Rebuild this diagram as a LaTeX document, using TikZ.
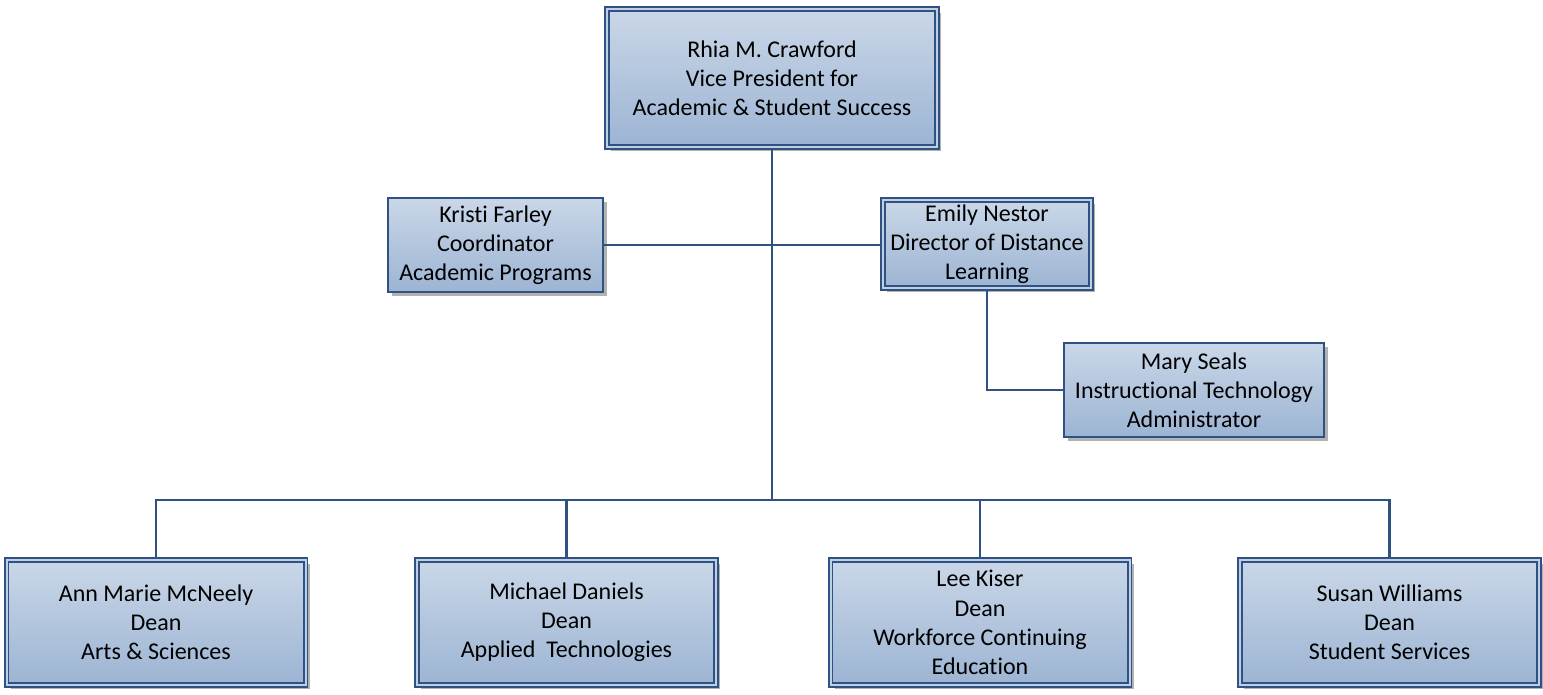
\documentclass[tikz,border=0pt]{standalone}
\usepackage{fontspec}
\setmainfont{Carlito}[Ligatures=NoCommon]
\usetikzlibrary{positioning, shadows}
\definecolor{boxline}{HTML}{2F5283}
\definecolor{boxtop}{HTML}{CAD7E8}
\definecolor{boxbottom}{HTML}{9CB4D3}
\definecolor{boxgap}{HTML}{BFCFE4}
\tikzstyle{base} = [rectangle, align=center, inner sep=0pt, top color=boxtop, bottom color=boxbottom,
 drop shadow={shadow xshift=2pt, shadow yshift=-2pt, fill=black, opacity=0.3},
 font=\fontsize{12}{14.6}\selectfont]
\tikzstyle{single_box} = [base, draw=boxline, line width=1.1pt]
\tikzstyle{double_box} = [base, draw=boxline, line width=0.95pt, double=boxgap, double distance=1pt]
\tikzstyle{dean} = [double_box, minimum width=149.5pt, minimum height=62.7pt]
\tikzstyle{link} = [draw=boxline, line width=1.4pt]

\begin{document}
\begin{tikzpicture}[x=0.5pt, y=-0.5pt]
\useasboundingbox (0,0) rectangle (1543,695);

\node (VP_CRAWFORD) [double_box, minimum width=165pt, minimum height=69pt] at (772,78)
    {Rhia M. Crawford\\Vice President for\\Academic \& Student Success};
\node (COORD_FARLEY) [single_box, minimum width=107.5pt, minimum height=47pt] at (495.5,245)
    {Kristi Farley\\Coordinator\\Academic Programs};
\node (DIR_NESTOR) [double_box, minimum width=104pt, minimum height=44pt] at (987,244)
    {Emily Nestor\\Director of Distance\\Learning};
\node (ADMIN_SEALS) [single_box, minimum width=130pt, minimum height=47pt] at (1194,390)
    {Mary Seals\\Instructional Technology\\Administrator};

\node (DEAN_MCNEELY) [dean] at (156,622.5) {Ann Marie McNeely\\Dean\\Arts \& Sciences};
\node (DEAN_DANIELS) [dean, right=54.8pt of DEAN_MCNEELY] {Michael Daniels\\Dean\\Applied\ \ Technologies};
\node (DEAN_KISER) [dean, right=56.3pt of DEAN_DANIELS] {Lee Kiser\\Dean\\Workforce Continuing\\Education};
\node (DEAN_WILLIAMS) [dean, right=54.3pt of DEAN_KISER] {Susan Williams\\Dean\\Student Services};

\coordinate (BUS) at (772,500);

\draw [link] (COORD_FARLEY) -- (COORD_FARLEY -| DIR_NESTOR.west);
\draw [link] (DIR_NESTOR) |- (ADMIN_SEALS);
\draw [link] (VP_CRAWFORD) -- (BUS);
\draw [link] (DEAN_MCNEELY) |- (BUS);
\draw [link] (DEAN_WILLIAMS) |- (BUS);
\draw [link] (DEAN_DANIELS) -- (DEAN_DANIELS |- BUS);
\draw [link] (DEAN_KISER) -- (DEAN_KISER |- BUS);

\end{tikzpicture}
\end{document}
